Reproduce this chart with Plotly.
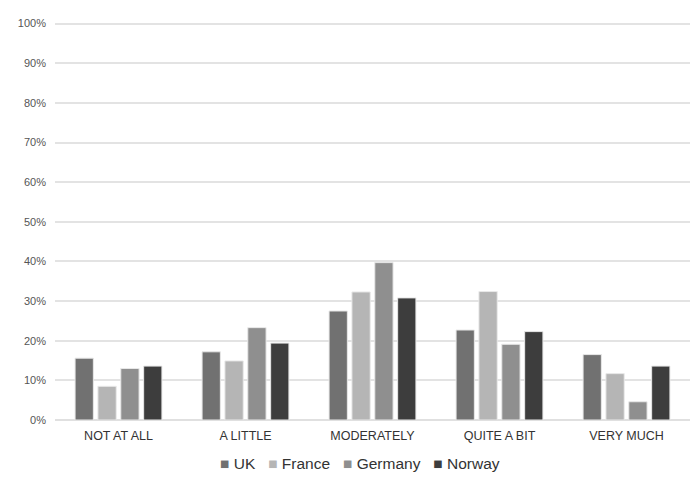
import plotly.graph_objects as go

categories = ["NOT AT ALL", "A LITTLE", "MODERATELY", "QUITE A BIT", "VERY MUCH"]
uk = [15.6, 17.2, 27.5, 22.7, 16.5]
france = [8.5, 14.9, 32.3, 32.4, 11.7]
germany = [13.0, 23.3, 39.7, 19.1, 4.6]
norway = [13.6, 19.4, 30.8, 22.3, 13.6]
series = [("UK", uk, "#717171"), ("France", france, "#b5b5b5"),
          ("Germany", germany, "#8f8f8f"), ("Norway", norway, "#3d3d3d")]
yticks = list(range(0, 101, 10))

fig = go.Figure()
for name, vals, col in series:
    fig.add_trace(go.Bar(x=categories, y=[v / 100 for v in vals], name=name,
                         showlegend=False,
                         marker=dict(color=col, line=dict(color="#e8e8e8", width=1))))

legend_text = "&nbsp;&nbsp;&nbsp;".join(
    f"<span style='color:{col}'>■</span> {name}" for name, _, col in series)
fig.add_annotation(text=legend_text, x=0.48, xref="paper", y=-0.11, yref="paper",
                   xanchor="center", yanchor="middle", showarrow=False,
                   font=dict(size=15.5, color="#333333"))

fig.update_layout(
    width=692, height=481,
    margin=dict(l=47, r=10, t=14, b=69),
    paper_bgcolor="white", plot_bgcolor="white",
    barmode="group", bargap=0.28, bargroupgap=0.2,
    font=dict(family="Liberation Sans, Arial, sans-serif", color="#333333"),
    xaxis=dict(showgrid=False, showline=False, ticks="", automargin=False,
               tickfont=dict(size=12.5, color="#333333"), ticklabelstandoff=6),
    yaxis=dict(range=[0, 1.004], tickvals=[t / 100 for t in yticks], automargin=False,
               ticktext=[f"{t}%" for t in yticks], gridcolor="#e3e3e3", gridwidth=1.5,
               zeroline=True, zerolinecolor="#e0e0e0", zerolinewidth=1.5,
               showline=False, tickfont=dict(size=11, color="#555555"), ticklabelstandoff=8),
)
fig.write_html("out.html")
